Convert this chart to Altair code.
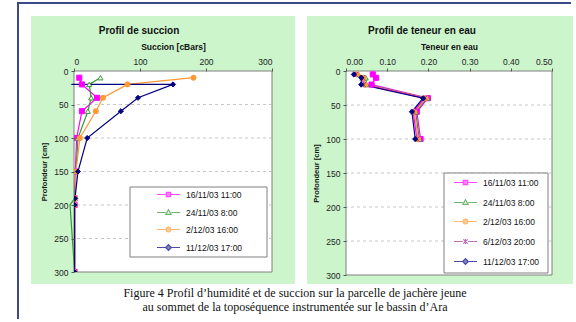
import altair as alt
import pandas as pd

# ---- Profil de succion (cBars) ----
succ_series = ["16/11/03 11:00", "24/11/03 8:00", "2/12/03 16:00", "11/12/03 17:00"]
succ_colors = ["#FF00FF", "#339933", "#FF9933", "#000080"]
succ_fills = ["#FF00FF", "#FFFFFF", "#FF9933", "#000080"]
succ_depths = [10, 20, 40, 60, 100, 150, 190, 200, 300]
succ_1611 = [8, 12, 35, 12, 4, 2, 1, 1, 1]
succ_2411 = [40, 23, 26, 21, 6, 3, 1, -6, 1]
succ_0212 = [181, 81, 44, 33, 9, 3, 2, 1, 1]
succ_1112_depths = [20, 20, 40, 60, 100, 150, 190, 200, 300]
succ_1112 = [-4, 150, 97, 71, 20, 6, 1.5, 1, 1]
succ_ticks = [0, 100, 200, 300]

# ---- Profil de teneur en eau ----
ten_series = ["16/11/03 11:00", "24/11/03 8:00", "2/12/03 16:00", "6/12/03 20:00", "11/12/03 17:00"]
ten_colors = ["#FF00FF", "#339933", "#FF9933", "#993399", "#000080"]
ten_fills = ["#FF00FF", "#FFFFFF", "#FF9933", "#993399", "#000080"]
ten_depths = [5, 10, 20, 40, 60, 100]
ten_1611 = [0.065, 0.073, 0.062, 0.199, 0.172, 0.181]
ten_2411 = [0.030, 0.048, 0.050, 0.197, 0.169, 0.178]
ten_0212 = [0.027, 0.043, 0.046, 0.194, 0.166, 0.175]
ten_0612 = [0.023, 0.040, 0.042, 0.191, 0.163, 0.172]
ten_1112 = [0.019, 0.037, 0.037, 0.187, 0.160, 0.168]
ten_ticks = [0.0, 0.1, 0.2, 0.3, 0.4, 0.5]

depth_ticks = [0, 50, 100, 150, 200, 250, 300]
grid_depths = [50, 100, 150, 200, 250]

caption = [
    "Figure 4 Profil d\u2019humidité et de succion sur la parcelle de jachère jeune",
    "au sommet de la toposéquence instrumentée sur le bassin d\u2019Ara",
]

PANEL_GREEN = "#CCF5CC"
FRAME_BLUE = "#3A4A8A"
FONT = "Liberation Sans"

# marker shapes on the curves
SQUARE = "square"
TRIANGLE = "triangle-up"
CIRCLE = "circle"
DIAMOND = "diamond"
STAR = "M-1,-1L1,1M1,-1L-1,1M0,-1V1"

# legend symbols: a short line with the marker in its middle
def legend_path(marker):
    return "M-1,0H-0.24M0.24,0H1" + marker

L_SQUARE = legend_path("M-0.19,-0.19H0.19V0.19H-0.19Z")
L_TRIANGLE = legend_path("M0,-0.24L0.23,0.17H-0.23Z")
L_CIRCLE = legend_path("M0.2,0A0.2,0.2,0,1,1,-0.2,0A0.2,0.2,0,1,1,0.2,0Z")
L_DIAMOND = legend_path("M0,-0.25L0.25,0L0,0.25L-0.25,0Z")
L_STAR = legend_path("M-0.19,-0.19L0.19,0.19M0.19,-0.19L-0.19,0.19M0,-0.22V0.22")


def long_table(names, depth_lists, value_lists):
    rows = []
    for name, depths, values in zip(names, depth_lists, value_lists):
        for i, (d, v) in enumerate(zip(depths, values)):
            rows.append({"serie": name, "prof": d, "val": v, "ordre": i})
    return pd.DataFrame(rows)


succ_df = long_table(
    succ_series,
    [succ_depths, succ_depths, succ_depths, succ_1112_depths],
    [succ_1611, succ_2411, succ_0212, succ_1112],
)
ten_df = long_table(
    ten_series,
    [ten_depths] * 5,
    [ten_1611, ten_2411, ten_0212, ten_0612, ten_1112],
)

one_row = alt.Data(values=[{"k": 1}])


def fixed_rect(x, x2, y, y2, **style):
    return alt.Chart(one_row).mark_rect(clip=False, **style).encode(
        x=alt.value(x), x2=alt.value(x2), y=alt.value(y), y2=alt.value(y2)
    )


def panel(df, names, colors, fills, shapes, legend_shapes, xdomain, xticks,
          xfmt, xtitle, title, title_x, w, h, green, box, leg_xy, rows_pad,
          extra=()):
    x_enc = alt.X(
        "val:Q",
        scale=alt.Scale(domain=xdomain, nice=False, zero=False),
        axis=alt.Axis(orient="top", values=xticks, format=xfmt, title=xtitle,
                      grid=False, domain=False, tickSize=3, tickColor="#555555",
                      labelPadding=2, labelFontSize=8.5, labelColor="#222222",
                      titleFontSize=8.5, titleFontWeight="bold", titlePadding=6,
                      titleColor="#111111", labelFont=FONT, titleFont=FONT,
                      zindex=1),
    )
    y_enc = alt.Y(
        "prof:Q",
        scale=alt.Scale(domain=[0, 300], reverse=True, nice=False),
        axis=alt.Axis(values=depth_ticks, title="Profondeur [cm]", grid=False,
                      domain=False, tickSize=3, tickColor="#555555",
                      labelPadding=3, labelFontSize=8.5, labelColor="#222222",
                      titleFontSize=7.5, titleFontWeight="bold", titlePadding=5,
                      titleColor="#111111", labelFont=FONT, titleFont=FONT,
                      zindex=1),
    )

    background = fixed_rect(green[0], green[1], -55, 213, fill=PANEL_GREEN)
    plot_area = fixed_rect(0, w, 0, h, fill="white", stroke="#808080", strokeWidth=1)

    heading = alt.Chart(one_row).mark_text(
        font=FONT, fontSize=10, fontWeight="bold", color="#111111",
        align="center", baseline="middle", clip=False,
    ).encode(x=alt.value(title_x), y=alt.value(-40), text=alt.value(title))

    grid = alt.Chart(pd.DataFrame({"prof": grid_depths})).mark_rule(
        color="#B8B8B8", strokeDash=[3, 3], strokeWidth=0.8
    ).encode(y=y_enc)

    color_scale = alt.Scale(domain=names, range=colors)
    lines = alt.Chart(df).mark_line(strokeWidth=1.2, clip=False).encode(
        x=x_enc, y=y_enc,
        color=alt.Color("serie:N", scale=color_scale, legend=None),
        order="ordre:Q",
    )
    points = alt.Chart(df).mark_point(filled=True, size=26, strokeWidth=1, opacity=1, clip=True).encode(
        x=x_enc, y=y_enc,
        shape=alt.Shape("serie:N", scale=alt.Scale(domain=names, range=shapes), legend=None),
        fill=alt.Fill("serie:N", scale=alt.Scale(domain=names, range=fills), legend=None),
        stroke=alt.Stroke("serie:N", scale=alt.Scale(domain=names, range=colors), legend=None),
    )

    legend_box = fixed_rect(box[0], box[1], box[2], box[3],
                            fill="white", stroke="#808080", strokeWidth=1)

    leg = alt.Legend(orient="none", legendX=leg_xy[0], legendY=leg_xy[1], title=None,
                     symbolSize=529, symbolStrokeWidth=1.2, labelFontSize=8.5,
                     labelFont=FONT, labelColor="#111111", labelOffset=5,
                     rowPadding=rows_pad, padding=0, zindex=1)
    legend_layer = alt.Chart(df).mark_point(filled=True, strokeWidth=1.2).encode(
        shape=alt.Shape("serie:N", scale=alt.Scale(domain=names, range=legend_shapes), legend=leg),
        fill=alt.Fill("serie:N", scale=alt.Scale(domain=names, range=fills), legend=leg),
        stroke=alt.Stroke("serie:N", scale=alt.Scale(domain=names, range=colors), legend=leg),
    ).transform_filter("false")

    layers = [background, heading, plot_area, grid, lines, points, legend_box,
              legend_layer] + list(extra)
    return alt.layer(*layers).resolve_scale(
        shape="independent", fill="independent", stroke="independent"
    ).properties(width=w, height=h)


caption_text = alt.Chart(one_row).mark_text(
    font="Liberation Serif", fontSize=12, lineHeight=14, align="center",
    baseline="top", color="#111111", clip=False
).encode(x=alt.value(221), y=alt.value(217), text=alt.value(caption))

# dark blue frame along the top and left of the figure
frame_top = fixed_rect(-57, 497, -69, -67, fill=FRAME_BLUE)
frame_left = fixed_rect(-57, -55, -69, 248, fill=FRAME_BLUE)

left = panel(
    succ_df, succ_series, succ_colors, succ_fills,
    [SQUARE, TRIANGLE, CIRCLE, DIAMOND],
    [L_SQUARE, L_TRIANGLE, L_CIRCLE, L_DIAMOND],
    [0, 300], succ_ticks, "d", "Succion [cBars]", "Profil de succion", 65,
    198, 201, (-43, 221), (56, 193, 116, 186), (82, 111), 0,
    extra=[caption_text, frame_top, frame_left],
)
right = panel(
    ten_df, ten_series, ten_colors, ten_fills,
    [SQUARE, TRIANGLE, CIRCLE, STAR, DIAMOND],
    [L_SQUARE, L_TRIANGLE, L_CIRCLE, L_STAR, L_DIAMOND],
    [0, 0.5], ten_ticks, ".2f", "Teneur en eau", "Profil de teneur en eau", 76,
    206, 204, (-39, 227), (98, 202, 102, 202), (107, 99), 2,
)

chart = alt.hconcat(left, right, spacing=74, bounds="flush").properties(
    padding={"left": 17, "top": 2, "right": 0, "bottom": 0},
    background="white",
).configure(font=FONT).configure_view(stroke=None)

chart.save("out.html", embed_options={"renderer": "svg", "actions": False})
